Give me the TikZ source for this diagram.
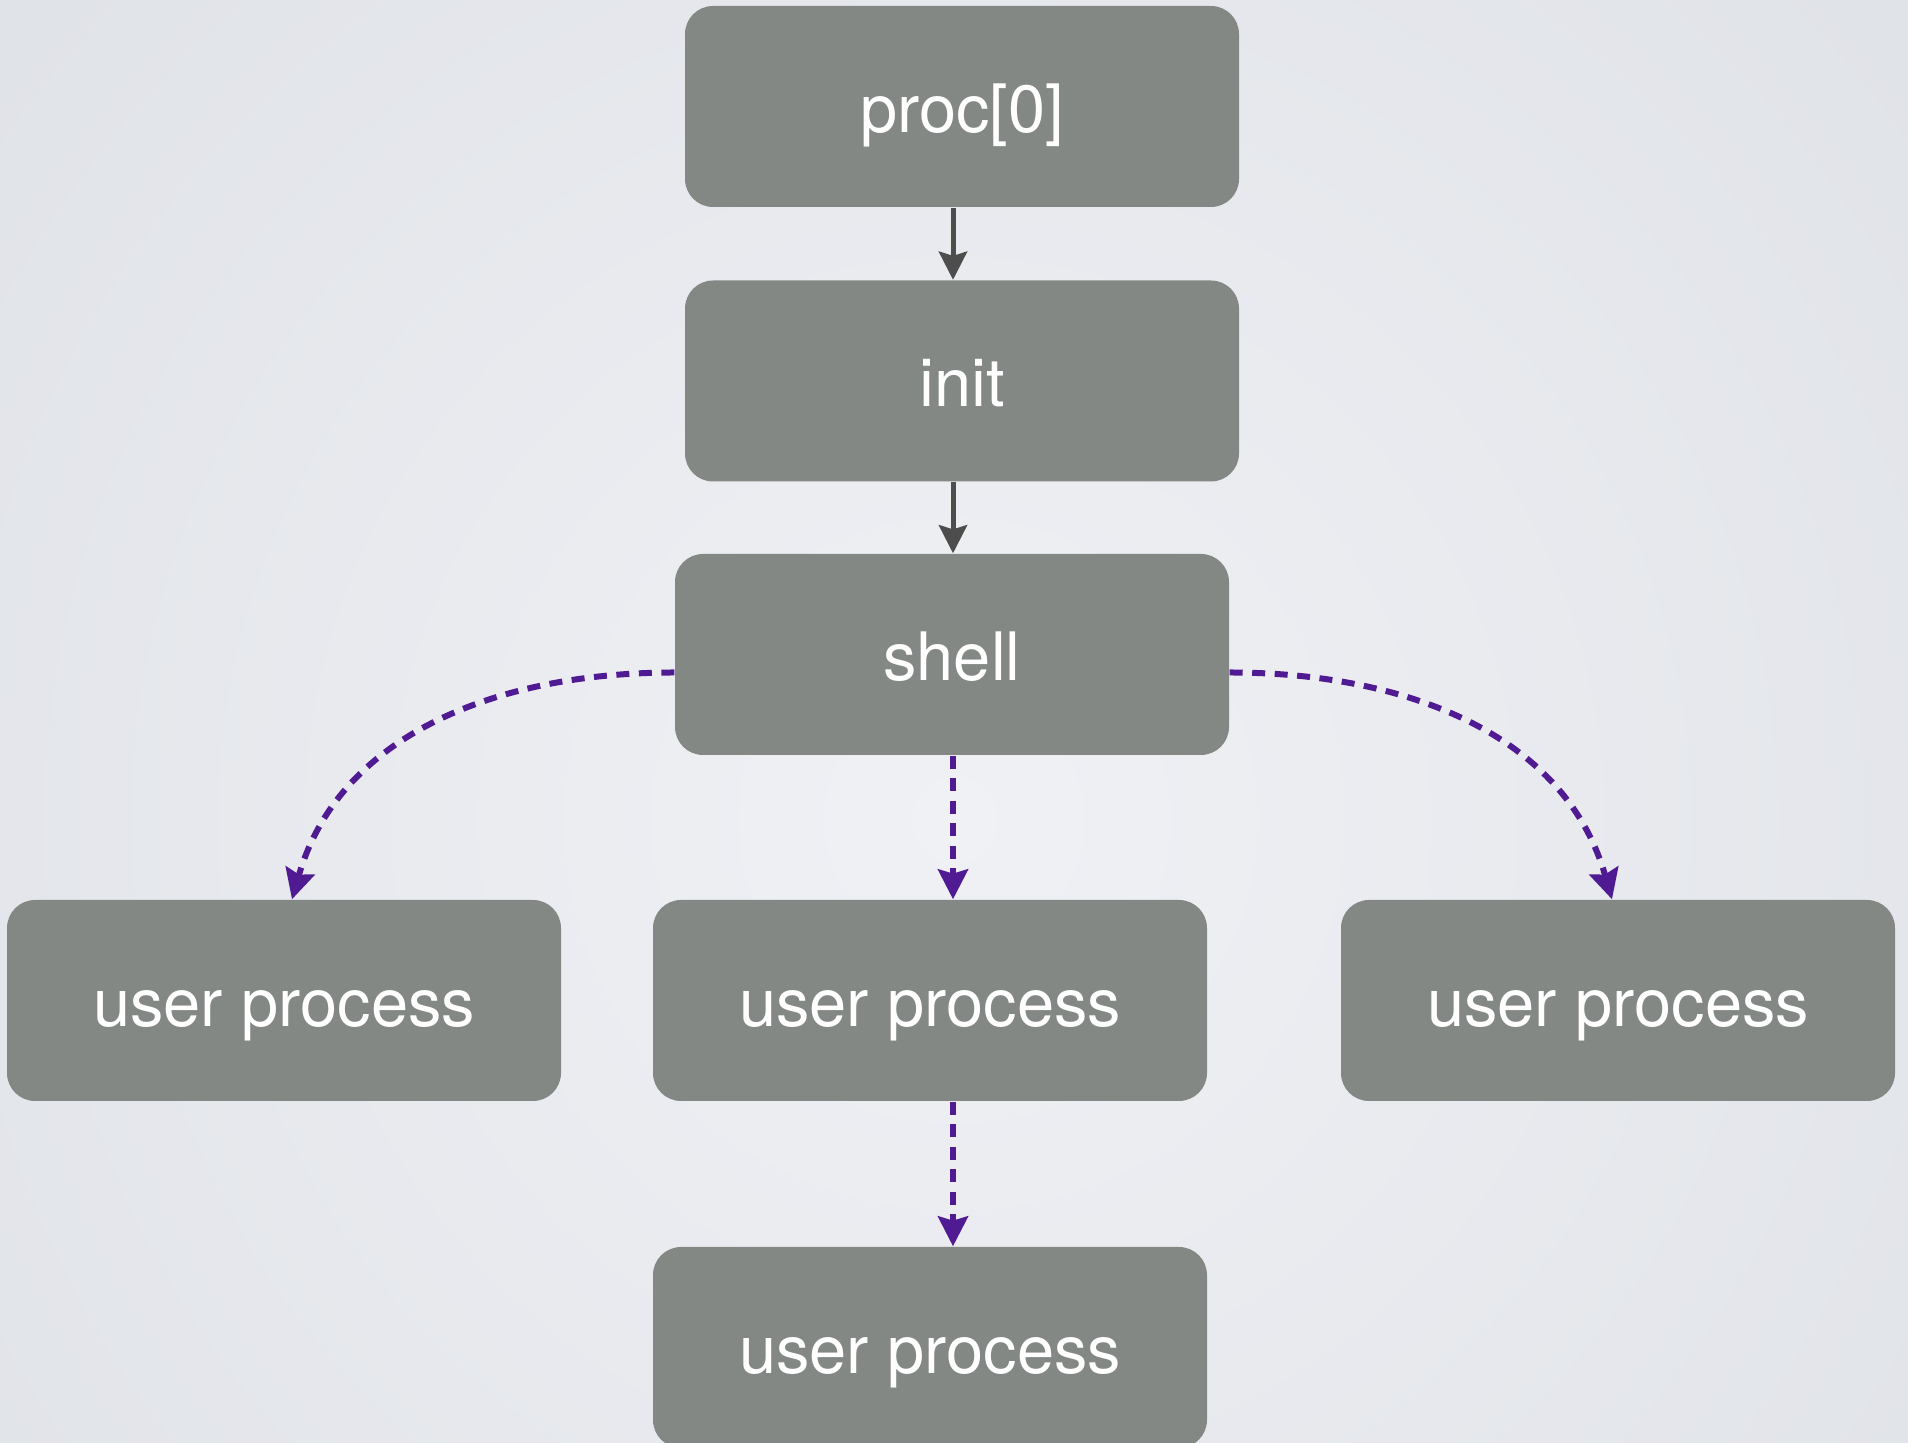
\documentclass[tikz,border=0pt]{standalone}
\usepackage{fontspec}
\setmainfont{TeX Gyre Heros}
\usetikzlibrary{arrows.meta,calc}

\definecolor{boxgray}{RGB}{131,136,133}
\definecolor{solidarrow}{RGB}{77,77,77}
\definecolor{forkpurple}{RGB}{80,26,146}
\definecolor{bginner}{RGB}{240,241,245}
\definecolor{bgouter}{RGB}{223,226,231}

\tikzset{
  procbox/.style={draw=none, fill=boxgray, rounded corners=2.8mm,
    minimum width=55.4mm, minimum height=20.1mm, inner sep=0pt,
    text height=14.8pt, text depth=0pt,
    text=white, font=\fontsize{19}{21}\selectfont},
  parentlink/.style={draw=solidarrow, line width=0.5mm,
    -{Stealth[length=8pt,width=8pt,inset=1.2pt]}},
  forklink/.style={draw=forkpurple, line width=0.6mm,
    dash pattern=on 1.3mm off 0.95mm,
    -{Stealth[length=8.5pt,width=8.5pt,inset=1.2pt]}}
}

\begin{document}
\begin{tikzpicture}[x=0.1mm, y=-0.1mm]
  % canvas: flat tone with a soft light centre
  \clip (0,0) rectangle (1908,1443);
  \fill[bgouter] (0,0) rectangle (1908,1443);
  \shade[inner color=bginner, outer color=bgouter] (954,820) circle (1300);

  % process boxes
  \node[procbox] (proc)   at (962,106.5)  {proc[0]};
  \node[procbox] (init)   at (962,381)    {init};
  \node[procbox] (shell)  at (952,654.5)  {shell};
  \node[procbox] (uleft)  at (284,1000.5) {user process};
  \node[procbox] (umid)   at (930,1000.5) {user process};
  \node[procbox] (uright) at (1618,1000.5){user process};
  \node[procbox] (ubot)   at (930,1347.5) {user process};

  % vertical spine used by the straight connectors
  \coordinate (spine) at (953,0);

  % boot chain
  \draw[parentlink] (proc.south -| spine) -- (init.north -| spine);
  \draw[parentlink] (init.south -| spine) -- (shell.north -| spine);

  % processes started from the shell
  \draw[forklink] (shell.south -| spine) -- (umid.north -| spine);
  \draw[forklink] (umid.south -| spine) -- (ubot.north -| spine);
  \draw[forklink] ($(shell.west)+(0,18)$) to[out=180,in=74] ($(uleft.north)+(8,0)$);
  \draw[forklink] ($(shell.east)+(0,18)$) to[out=0,in=106] ($(uright.north)+(-6,0)$);
\end{tikzpicture}
\end{document}
